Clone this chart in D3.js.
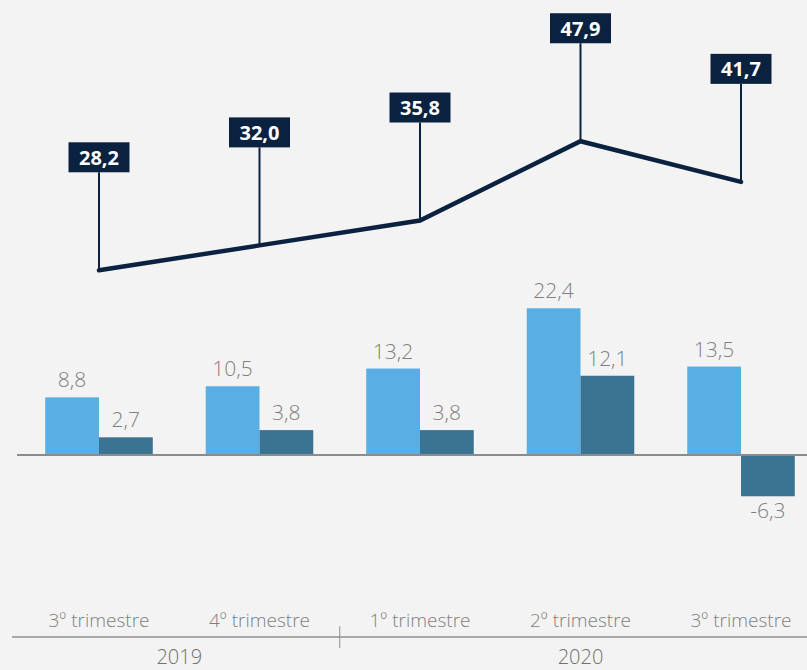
<!doctype html>
<html>
<head>
	<meta charset="utf-8">
	<script src="https://d3js.org/d3.v7.min.js"></script>
	<style>
		body { margin: 0; background: #f3f3f3; }
		svg { display: block; font-family: "Open Sans", sans-serif; }
	</style>
</head>
<body>
	<div id="viz">
		<svg style="width:807px;height:670px;"></svg>
	</div>
	<script>

		// data
		var quarters = ["3º trimestre", "4º trimestre", "1º trimestre", "2º trimestre", "3º trimestre "];
		var years = [
			{label: "2019", from: 0, to: 2},
			{label: "2020", from: 2, to: 5}
		];
		var lineValues = [28.2, 32.0, 35.8, 47.9, 41.7];
		var lightValues = [8.8, 10.5, 13.2, 22.4, 13.5];
		var darkValues = [2.7, 3.8, 3.8, 12.1, -6.3];
		var seriesKeys = ["light", "dark"];

		// comma decimals, plain hyphen for negatives
		var fmt = function(v) { return d3.format(".1f")(v).replace(".", ",").replace("\u2212", "-"); };

		var svg = d3.select("svg");
		var width = 807, height = 670;

		var xScale = d3.scaleBand()
			.domain(d3.range(quarters.length))
			.range([18.75, 821.25])
			.paddingInner(0.33)
			.paddingOuter(0.165);

		var xSub = d3.scaleBand()
			.domain(seriesKeys)
			.range([0, xScale.bandwidth()]);

		var yScale = d3.scaleLinear()
			.domain([0, 50])
			.range([455, 127.5]);

		var colors = {light: "#59afe3", dark: "#3b7393"};
		var navy = "#0a2240";

		var rows = quarters.map(function(q, i) {
			return {i: i, light: lightValues[i], dark: darkValues[i], line: lineValues[i]};
		});

		var cx = function(i) { return xScale(i) + xScale.bandwidth() / 2; };

		// bars
		var groups = svg.append("g").selectAll("g")
			.data(rows)
			.enter()
			.append("g")
				.attr("transform", d => "translate(" + xScale(d.i) + ",0)");

		groups.selectAll("rect")
			.data(d => seriesKeys.map(k => ({key: k, value: d[k]})))
			.enter()
			.append("rect")
				.attr("x", d => xSub(d.key))
				.attr("width", xSub.bandwidth())
				.attr("y", d => yScale(Math.max(0, d.value)))
				.attr("height", d => Math.abs(yScale(d.value) - yScale(0)))
				.attr("fill", d => colors[d.key]);

		groups.selectAll("text")
			.data(d => seriesKeys.map(k => ({key: k, value: d[k]})))
			.enter()
			.append("text")
				.attr("x", d => xSub(d.key) + xSub.bandwidth() / 2)
				.attr("y", d => d.value >= 0 ? yScale(d.value) - 10 : yScale(d.value) + 22)
				.attr("text-anchor", "middle")
				.attr("font-size", 21)
				.attr("font-weight", 300)
				.attr("fill", "#7f7f7f")
				.text(d => fmt(d.value));

		// zero line
		svg.append("line")
			.attr("x1", 17).attr("x2", width)
			.attr("y1", yScale(0)).attr("y2", yScale(0))
			.attr("stroke", "#8c8c8c")
			.attr("stroke-width", 2);

		// line series with leader labels
		var line = d3.line()
			.x(d => cx(d.i))
			.y(d => yScale(d.line));

		svg.append("path")
			.datum(rows)
			.attr("d", line)
			.attr("fill", "none")
			.attr("stroke", navy)
			.attr("stroke-width", 4.5)
			.attr("stroke-linecap", "round");

		var labels = svg.append("g").selectAll("g")
			.data(rows)
			.enter()
			.append("g")
				.attr("transform", d => "translate(" + cx(d.i) + "," + yScale(d.line) + ")");

		labels.append("line")
			.attr("x1", 0).attr("x2", 0)
			.attr("y1", 0).attr("y2", -98)
			.attr("stroke", navy)
			.attr("stroke-width", 2);

		labels.append("rect")
			.attr("x", -30.5).attr("y", -128)
			.attr("width", 61).attr("height", 30)
			.attr("fill", navy);

		labels.append("text")
			.attr("x", 0).attr("y", -105.5)
			.attr("text-anchor", "middle")
			.attr("font-size", 20)
			.attr("font-weight", 700)
			.attr("fill", "#ffffff")
			.text(d => fmt(d.line));

		// category axis
		var axisY = 637;
		svg.append("line")
			.attr("x1", 12).attr("x2", width)
			.attr("y1", axisY).attr("y2", axisY)
			.attr("stroke", "#8f8f8f")
			.attr("stroke-width", 1.5);

		svg.append("g").selectAll("text")
			.data(quarters)
			.enter()
			.append("text")
				.attr("x", (d, i) => cx(i))
				.attr("y", axisY - 10)
				.attr("text-anchor", "middle")
				.attr("font-size", 19)
				.attr("font-weight", 300)
				.attr("fill", "#7f7f7f")
				.text(d => d.trim());

		var step = xScale.step();
		var edge = function(i) { return xScale(i) - xScale.paddingInner() * step / 2; };

		svg.append("line")
			.attr("x1", edge(2)).attr("x2", edge(2))
			.attr("y1", axisY - 11).attr("y2", axisY + 11)
			.attr("stroke", "#8f8f8f")
			.attr("stroke-width", 1);

		svg.append("g").selectAll("text")
			.data(years)
			.enter()
			.append("text")
				.attr("x", d => (xScale.range()[0] + d.from * step + xScale.range()[0] + d.to * step) / 2)
				.attr("y", axisY + 27)
				.attr("text-anchor", "middle")
				.attr("font-size", 20)
				.attr("font-weight", 300)
				.attr("fill", "#707070")
				.text(d => d.label);

	</script>
</body>
</html>
